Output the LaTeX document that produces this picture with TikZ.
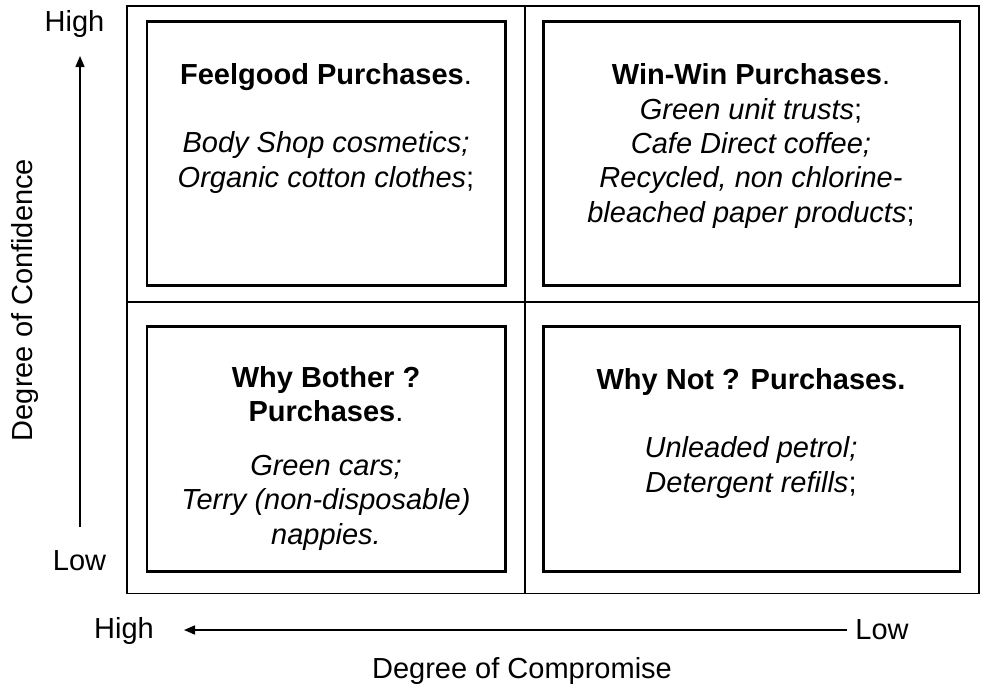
\documentclass[tikz,border=0pt]{standalone}
\usepackage{fontspec}
\setmainfont{Liberation Sans}
\usetikzlibrary{arrows.meta}
\begin{document}
\begin{tikzpicture}[x=1pt,y=-1pt,
  frame/.style={line width=1.9pt},
  quad/.style={draw, line width=2.9pt},
  % multi-line nodes: the base anchor sits on the last line's baseline
  body/.style={align=center, anchor=base, inner sep=0pt,
    font=\fontsize{29}{34.3}\selectfont},
  axislbl/.style={anchor=base, inner sep=0pt,
    font=\fontsize{29}{34}\selectfont},
  axisarrow/.style={line width=1.5pt, -{Triangle[length=11pt,width=9pt]}}]
\useasboundingbox (0,0) rectangle (981,691);

% outer grid
\draw[frame] (127,6) rectangle (979,593.5);
\draw[frame] (525,6) -- (525,593.5);
\draw[frame] (127,302) -- (979,302);

% the four quadrant boxes
\draw[quad] (147,21.7) rectangle (505.3,285.5);
\draw[quad] (543.8,21.7) rectangle (960,285.5);
\draw[quad] (147,326.3) rectangle (505.3,571.3);
\draw[quad] (543.8,326.3) rectangle (960,571.3);

% quadrant texts
\node[body] (feelgood) at (326,187)
  {\textbf{Feelgood Purchases}.\\[34pt]
   \textit{Body Shop cosmetics;}\\
   \textit{Organic cotton clothes};};
\node[body] (winwin) at (751,222)
  {\textbf{Win-Win Purchases}.\\
   \textit{Green unit trusts};\\
   \textit{Cafe Direct coffee;}\\
   \textit{Recycled, non chlorine-}\\
   \textit{bleached paper products};};
\node[body] (whybother) at (326,544)
  {\textbf{Why Bother ?}\\[-1pt]
   \textbf{Purchases}.\\[20pt]
   \textit{Green cars;}\\
   \textit{Terry (non-disposable)}\\
   \textit{nappies.}};
\node[body] (whynot) at (751,492)
  {\textbf{Why Not ? Purchases.}\\[34pt]
   \textit{Unleaded petrol;}\\
   \textit{Detergent refills};};

% axis end labels
\node[axislbl] (yhigh) at (74.5,31) {High};
\node[axislbl] (ylow) at (79.5,570) {Low};
\node[axislbl] (xhigh) at (124,638) {High};
\node[axislbl] (xlow) at (882,639) {Low};

% axis titles
\node[axislbl, rotate=90] (ytitle) at (32,300) {Degree of Confidence};
\node[axislbl] (xtitle) at (522,678) {Degree of Compromise};

% axis arrows
\coordinate (ybot) at (80,527);
\coordinate (ytop) at (80,56);
\coordinate (xright) at (847,630);
\coordinate (xleft) at (184,630);
\draw[axisarrow] (ybot) -- (ytop);
\draw[axisarrow] (xright) -- (xleft);
\end{tikzpicture}
\end{document}
